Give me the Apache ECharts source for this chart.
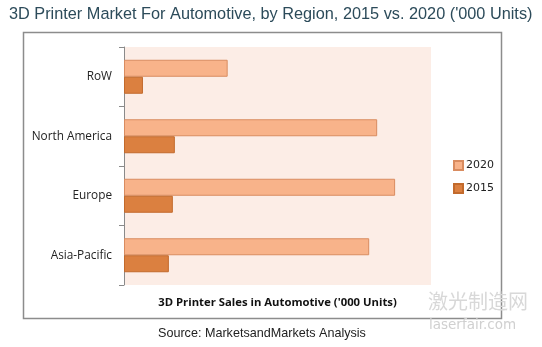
<!DOCTYPE html>
<html><head><meta charset="utf-8">
<script src="https://cdn.jsdelivr.net/npm/echarts@6/dist/echarts.min.js"></script>
<style>html,body{margin:0;padding:0;background:#fff}#c{width:542px;height:347px}</style>
</head><body><div id="c"></div>
<script>
const categories = ['Asia-Pacific', 'Europe', 'North America', 'RoW'];
const seriesNames = ['2020', '2015'];
const values2020 = [246, 272, 254, 104];
const values2015 = [45, 49, 51, 19];
const axisMax = 308;

const chart = echarts.init(document.getElementById('c'));
chart.setOption({
  animation: false,
  backgroundColor: '#ffffff',
  title: {
    text: "3D Printer Market For Automotive, by Region, 2015 vs. 2020 ('000 Units)",
    left: 4, top: 2,
    textStyle: { fontFamily: 'Liberation Sans', fontSize: 16.3, fontWeight: 'normal', color: '#2c4b5a' }
  },
  legend: {
    data: seriesNames,
    orient: 'vertical',
    left: 448, top: 155,
    itemWidth: 9, itemHeight: 9, itemGap: 12,
    icon: 'rect',
    textStyle: { fontFamily: 'DejaVu Sans', fontSize: 11, color: '#222', padding: [0, 0, 0, -2] }
  },
  grid: { left: 124, right: 111, top: 47, bottom: 62, backgroundColor: '#fcede6', show: true, borderWidth: 0 },
  xAxis: {
    type: 'value', min: 0, max: axisMax,
    axisLine: { show: false }, axisTick: { show: false }, axisLabel: { show: false }, splitLine: { show: false },
    name: "3D Printer Sales in Automotive ('000 Units)",
    nameLocation: 'middle', nameGap: 12,
    nameTextStyle: { fontFamily: 'Open Sans', fontWeight: 'bold', fontSize: 11.3, color: '#111' }
  },
  yAxis: {
    type: 'category', data: categories,
    axisLine: { show: true, lineStyle: { color: '#8a8a8a' } },
    axisTick: { show: true, length: 5, lineStyle: { color: '#8a8a8a' } },
    axisLabel: { margin: 12, fontFamily: 'Open Sans', fontSize: 11.8, color: '#222' }
  },
  series: [
    { name: '2020', type: 'bar', data: values2020, barWidth: 17, barGap: '0%',
      itemStyle: { color: '#f8b38a', borderColor: '#d98c60', borderWidth: 1 } },
    { name: '2015', type: 'bar', data: values2015, barWidth: 17, barGap: '0%',
      itemStyle: { color: '#db8040', borderColor: '#c26a2c', borderWidth: 1 } }
  ],
  graphic: [
    { type: 'rect', shape: { x: 23.5, y: 32.5, width: 478, height: 286 }, style: { fill: 'none', stroke: '#8c8c8c', lineWidth: 1.5 }, z: -1 },
    { type: 'text', left: 158, top: 327, style: { text: 'Source: MarketsandMarkets Analysis', font: '12.6px "Liberation Sans"', fill: '#222' } },
    { type: 'text', left: 428, top: 291, style: { text: '激光制造网', font: '20px "Noto Sans CJK SC"', fill: '#d8d8d8' } },
    { type: 'text', left: 429, top: 318, style: { text: 'laserfair.com', font: '13.5px "DejaVu Sans"', fill: '#d0d0d0' } }
  ]
});
</script></body></html>
